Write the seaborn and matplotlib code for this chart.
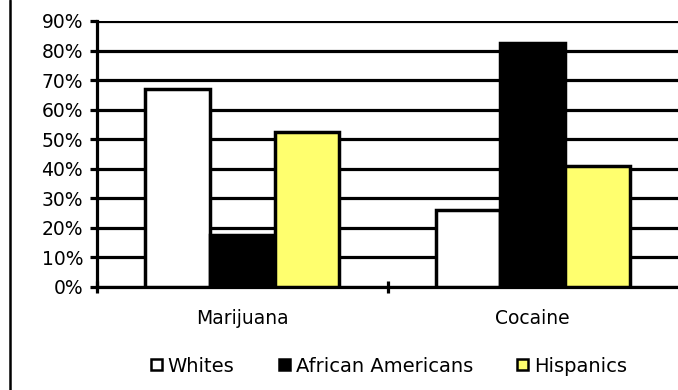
import matplotlib
matplotlib.use("Agg")
import matplotlib.pyplot as plt
from matplotlib.lines import Line2D
from matplotlib.patches import Patch
from matplotlib.ticker import FixedLocator, PercentFormatter
import seaborn as sns
import pandas as pd

drugs = ["Marijuana", "Cocaine"]
groups = ["Whites", "African Americans", "Hispanics"]
marijuana = [67.0, 17.5, 52.5]
cocaine = [26.0, 82.5, 41.0]
y_ticks = [0, 10, 20, 30, 40, 50, 60, 70, 80, 90]

colors = {"Whites": "#FFFFFF", "African Americans": "#000000", "Hispanics": "#FFFF6E"}

df = pd.DataFrame({
    "drug": [d for d in drugs for _ in groups],
    "group": groups * len(drugs),
    "share": marijuana + cocaine,
})

sns.set_theme(style="white")
plt.rcParams["font.family"] = ["DejaVu Sans"]
plt.rcParams["text.color"] = "black"

fig = plt.figure(figsize=(6.78, 3.9), dpi=100)
ax = fig.add_axes([97 / 678, 1 - 287 / 390, 1 - 97 / 678, (287 - 21) / 390])

sns.barplot(data=df, x="drug", y="share", hue="group", order=drugs,
            hue_order=groups, palette=colors, saturation=1, width=0.667, ax=ax,
            edgecolor="black", linewidth=2.5, legend=False, zorder=3)

ax.set_ylim(0, 90)
ax.set_xlim(-0.5, 1.5)
ax.yaxis.set_major_locator(FixedLocator(y_ticks))
ax.yaxis.set_major_formatter(PercentFormatter(decimals=0))
ax.grid(axis="y", color="black", linewidth=2.3, zorder=0)
ax.set_axisbelow(True)
ax.set_xlabel("")
ax.set_ylabel("")

for s in ["top", "right"]:
    ax.spines[s].set_visible(False)
for s in ["left", "bottom"]:
    ax.spines[s].set_color("black")
    ax.spines[s].set_linewidth(2.3)

ax.tick_params(axis="y", direction="out", length=5, width=2.3, color="black",
               pad=5, labelsize=13.5, labelcolor="black", left=True)
ax.tick_params(axis="x", which="major", length=0, pad=16, labelsize=13.5,
               labelcolor="black")
ax.set_xticks([-0.5, 0.5], minor=True)
ax.tick_params(axis="x", which="minor", direction="inout", length=9, width=2.3,
               color="black", bottom=True)

# frame line along the left edge of the figure
fig.add_artist(Line2D([0.0145, 0.0145], [0, 1], transform=fig.transFigure,
                      color="black", linewidth=1.8))

handles = [Patch(facecolor=colors[g], edgecolor="black", linewidth=1.8) for g in groups]
leg = fig.legend(handles, groups, loc="center", bbox_to_anchor=(389 / 678, 1 - 366 / 390),
                 ncol=3, frameon=False, fontsize=14, handlelength=0.55,
                 handleheight=0.55, handletextpad=0.3, columnspacing=2.3)
for t in leg.get_texts():
    t.set_color("black")

fig.savefig("out.png", dpi=100)
